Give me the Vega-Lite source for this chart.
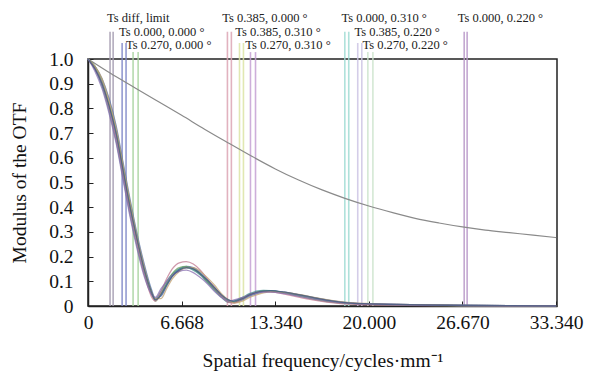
{
  "$schema": "https://vega.github.io/schema/vega-lite/v6.json",
  "width": 469,
  "height": 247,
  "autosize": "none",
  "padding": {"left": 88, "top": 59, "right": 32, "bottom": 68},
  "background": "white",
  "config": {
    "view": {"stroke": "#222", "strokeWidth": 1.5},
    "font": "Liberation Serif"
  },
  "datasets": {
    "curves": [
      {"f": 0, "a": 1, "b": 1, "c": 1, "d": 1, "e": 1, "g": 1, "h": 1, "i": 1},
      {"f": 0.5, "a": 0.96, "b": 0.97, "c": 0.96, "d": 0.97, "e": 0.96, "g": 0.97, "h": 0.95, "i": 0.96},
      {"f": 1, "a": 0.9, "b": 0.92, "c": 0.89, "d": 0.91, "e": 0.9, "g": 0.92, "h": 0.88, "i": 0.9},
      {"f": 1.5, "a": 0.81, "b": 0.84, "c": 0.79, "d": 0.82, "e": 0.8, "g": 0.83, "h": 0.78, "i": 0.81},
      {"f": 2, "a": 0.69, "b": 0.73, "c": 0.67, "d": 0.71, "e": 0.68, "g": 0.72, "h": 0.66, "i": 0.7},
      {"f": 2.5, "a": 0.54, "b": 0.58, "c": 0.52, "d": 0.56, "e": 0.53, "g": 0.57, "h": 0.51, "i": 0.55},
      {"f": 3, "a": 0.39, "b": 0.43, "c": 0.37, "d": 0.41, "e": 0.38, "g": 0.42, "h": 0.36, "i": 0.4},
      {"f": 3.5, "a": 0.26, "b": 0.29, "c": 0.24, "d": 0.27, "e": 0.25, "g": 0.28, "h": 0.23, "i": 0.27},
      {"f": 4, "a": 0.14, "b": 0.17, "c": 0.13, "d": 0.15, "e": 0.13, "g": 0.16, "h": 0.12, "i": 0.15},
      {"f": 4.5, "a": 0.05, "b": 0.07, "c": 0.05, "d": 0.06, "e": 0.04, "g": 0.06, "h": 0.05, "i": 0.06},
      {"f": 4.8, "a": 0.025, "b": 0.03, "c": 0.03, "d": 0.02, "e": 0.02, "g": 0.03, "h": 0.035, "i": 0.025},
      {"f": 5.2, "a": 0.05, "b": 0.04, "c": 0.06, "d": 0.05, "e": 0.06, "g": 0.03, "h": 0.07, "i": 0.045},
      {"f": 5.6, "a": 0.09, "b": 0.08, "c": 0.1, "d": 0.09, "e": 0.11, "g": 0.07, "h": 0.1, "i": 0.085},
      {"f": 6, "a": 0.125, "b": 0.12, "c": 0.13, "d": 0.13, "e": 0.15, "g": 0.11, "h": 0.125, "i": 0.12},
      {"f": 6.5, "a": 0.145, "b": 0.15, "c": 0.15, "d": 0.155, "e": 0.175, "g": 0.14, "h": 0.14, "i": 0.145},
      {"f": 7, "a": 0.155, "b": 0.16, "c": 0.155, "d": 0.16, "e": 0.18, "g": 0.155, "h": 0.145, "i": 0.155},
      {"f": 7.5, "a": 0.15, "b": 0.155, "c": 0.145, "d": 0.15, "e": 0.17, "g": 0.155, "h": 0.135, "i": 0.15},
      {"f": 8, "a": 0.13, "b": 0.135, "c": 0.125, "d": 0.13, "e": 0.145, "g": 0.14, "h": 0.115, "i": 0.13},
      {"f": 8.5, "a": 0.1, "b": 0.105, "c": 0.095, "d": 0.1, "e": 0.11, "g": 0.115, "h": 0.09, "i": 0.105},
      {"f": 9, "a": 0.07, "b": 0.075, "c": 0.065, "d": 0.07, "e": 0.075, "g": 0.085, "h": 0.06, "i": 0.075},
      {"f": 9.5, "a": 0.04, "b": 0.045, "c": 0.035, "d": 0.04, "e": 0.04, "g": 0.05, "h": 0.035, "i": 0.045},
      {"f": 10, "a": 0.02, "b": 0.025, "c": 0.015, "d": 0.02, "e": 0.015, "g": 0.025, "h": 0.02, "i": 0.025},
      {"f": 10.4, "a": 0.015, "b": 0.015, "c": 0.02, "d": 0.015, "e": 0.012, "g": 0.012, "h": 0.025, "i": 0.02},
      {"f": 11, "a": 0.03, "b": 0.025, "c": 0.035, "d": 0.03, "e": 0.03, "g": 0.02, "h": 0.035, "i": 0.03},
      {"f": 11.5, "a": 0.045, "b": 0.04, "c": 0.05, "d": 0.045, "e": 0.045, "g": 0.035, "h": 0.045, "i": 0.045},
      {"f": 12, "a": 0.055, "b": 0.05, "c": 0.06, "d": 0.055, "e": 0.055, "g": 0.045, "h": 0.052, "i": 0.055},
      {"f": 12.5, "a": 0.06, "b": 0.057, "c": 0.063, "d": 0.06, "e": 0.058, "g": 0.053, "h": 0.056, "i": 0.06},
      {"f": 13, "a": 0.061, "b": 0.06, "c": 0.062, "d": 0.06, "e": 0.057, "g": 0.057, "h": 0.056, "i": 0.062},
      {"f": 14, "a": 0.055, "b": 0.056, "c": 0.052, "d": 0.053, "e": 0.048, "g": 0.055, "h": 0.05, "i": 0.056},
      {"f": 15, "a": 0.045, "b": 0.046, "c": 0.04, "d": 0.042, "e": 0.036, "g": 0.047, "h": 0.04, "i": 0.046},
      {"f": 16, "a": 0.033, "b": 0.035, "c": 0.028, "d": 0.03, "e": 0.025, "g": 0.036, "h": 0.03, "i": 0.035},
      {"f": 17, "a": 0.022, "b": 0.025, "c": 0.018, "d": 0.02, "e": 0.016, "g": 0.026, "h": 0.021, "i": 0.024},
      {"f": 18, "a": 0.015, "b": 0.017, "c": 0.012, "d": 0.013, "e": 0.01, "g": 0.018, "h": 0.014, "i": 0.016},
      {"f": 19, "a": 0.011, "b": 0.012, "c": 0.009, "d": 0.009, "e": 0.007, "g": 0.013, "h": 0.01, "i": 0.011},
      {"f": 20, "a": 0.009, "b": 0.009, "c": 0.007, "d": 0.007, "e": 0.005, "g": 0.01, "h": 0.008, "i": 0.009},
      {"f": 22, "a": 0.006, "b": 0.006, "c": 0.005, "d": 0.004, "e": 0.003, "g": 0.006, "h": 0.005, "i": 0.006},
      {"f": 24, "a": 0.004, "b": 0.004, "c": 0.003, "d": 0.003, "e": 0.002, "g": 0.004, "h": 0.003, "i": 0.004},
      {"f": 27, "a": 0.002, "b": 0.002, "c": 0.002, "d": 0.001, "e": 0.001, "g": 0.002, "h": 0.002, "i": 0.002},
      {"f": 30, "a": 0.001, "b": 0.001, "c": 0.001, "d": 0.001, "e": 0, "g": 0.001, "h": 0.001, "i": 0.001},
      {"f": 33.34, "a": 0, "b": 0, "c": 0, "d": 0, "e": 0, "g": 0, "h": 0, "i": 0}
    ],
    "diff": [
      {"f": 0, "m": 1},
      {"f": 1.57, "m": 0.943},
      {"f": 3.36, "m": 0.883},
      {"f": 5, "m": 0.828},
      {"f": 6.67, "m": 0.772},
      {"f": 8.3, "m": 0.716},
      {"f": 10, "m": 0.66},
      {"f": 11.7, "m": 0.605},
      {"f": 13.34, "m": 0.555},
      {"f": 15, "m": 0.51},
      {"f": 16.67, "m": 0.47},
      {"f": 18.3, "m": 0.436},
      {"f": 20, "m": 0.405},
      {"f": 21.7, "m": 0.378},
      {"f": 23.3, "m": 0.355},
      {"f": 25, "m": 0.336},
      {"f": 26.67, "m": 0.32},
      {"f": 28.3, "m": 0.307},
      {"f": 30, "m": 0.297},
      {"f": 31.7, "m": 0.287},
      {"f": 33.34, "m": 0.277}
    ],
    "markers": [
      {"field": "diff", "f": 1.57, "top": 1.11},
      {"field": "diff", "f": 1.79, "top": 1.11},
      {"field": "00", "f": 2.43, "top": 1.065},
      {"field": "00", "f": 2.71, "top": 1.065},
      {"field": "270_0", "f": 3.21, "top": 1.028},
      {"field": "270_0", "f": 3.57, "top": 1.028},
      {"field": "385_0", "f": 9.93, "top": 1.11},
      {"field": "385_0", "f": 10.21, "top": 1.11},
      {"field": "385_310", "f": 10.79, "top": 1.065},
      {"field": "385_310", "f": 11.07, "top": 1.065},
      {"field": "270_310", "f": 11.57, "top": 1.028},
      {"field": "270_310", "f": 11.93, "top": 1.028},
      {"field": "0_310", "f": 18.29, "top": 1.11},
      {"field": "0_310", "f": 18.57, "top": 1.11},
      {"field": "385_220", "f": 19.21, "top": 1.065},
      {"field": "385_220", "f": 19.5, "top": 1.065},
      {"field": "270_220", "f": 19.93, "top": 1.028},
      {"field": "270_220", "f": 20.29, "top": 1.028},
      {"field": "0_220", "f": 26.79, "top": 1.11},
      {"field": "0_220", "f": 27.0, "top": 1.11}
    ],
    "labels": [
      {"label": "Ts diff, limit", "f": 1.36, "m": 1.164},
      {"label": "Ts 0.385, 0.000 °", "f": 9.56, "m": 1.164},
      {"label": "Ts 0.000, 0.310 °", "f": 18.05, "m": 1.164},
      {"label": "Ts 0.000, 0.220 °", "f": 26.33, "m": 1.164},
      {"label": "Ts 0.000, 0.000 °", "f": 2.21, "m": 1.11},
      {"label": "Ts 0.385, 0.310 °", "f": 10.49, "m": 1.11},
      {"label": "Ts 0.385, 0.220 °", "f": 18.97, "m": 1.11},
      {"label": "Ts 0.270, 0.000 °", "f": 2.71, "m": 1.056},
      {"label": "Ts 0.270, 0.310 °", "f": 11.2, "m": 1.056},
      {"label": "Ts 0.270, 0.220 °", "f": 19.54, "m": 1.056}
    ]
  },
  "layer": [
    {
      "data": {"name": "markers"},
      "mark": {"type": "rule", "strokeWidth": 1.6, "opacity": 0.85, "clip": false},
      "encoding": {
        "x": {"field": "f", "type": "quantitative"},
        "y": {"field": "top", "type": "quantitative"},
        "y2": {"datum": 0},
        "stroke": {
          "field": "field", "type": "nominal", "legend": null,
          "scale": {
            "domain": ["diff", "00", "270_0", "385_0", "385_310", "270_310", "0_310", "385_220", "270_220", "0_220"],
            "range": ["#a49cb0", "#8088c8", "#a8d4a0", "#dca4b4", "#dce4a4", "#c4a0d4", "#a0dcd4", "#ccc4e4", "#cce4cc", "#b898c8"]
          }
        }
      }
    },
    {
      "data": {"name": "diff"},
      "mark": {"type": "line", "color": "#8a8a8a", "strokeWidth": 1.2, "interpolate": "monotone"},
      "encoding": {
        "x": {"field": "f", "type": "quantitative"},
        "y": {"field": "m", "type": "quantitative"}
      }
    },
    {
      "data": {"name": "curves"},
      "transform": [{"fold": ["a", "b", "c", "d", "e", "g", "h", "i"], "as": ["c", "m"]}],
      "mark": {"type": "line", "interpolate": "monotone", "strokeWidth": 1.3, "opacity": 0.75},
      "encoding": {
        "x": {"field": "f", "type": "quantitative"},
        "y": {"field": "m", "type": "quantitative"},
        "detail": {"field": "c"},
        "color": {
          "field": "c", "type": "nominal", "legend": null,
          "scale": {"range": ["#6a5a9a", "#4a6aa8", "#3a8a8a", "#6aa060", "#c07890", "#c0a070", "#8a70b0", "#405a80"]}
        }
      }
    },
    {
      "data": {"name": "labels"},
      "mark": {"type": "text", "align": "left", "baseline": "middle", "font": "Liberation Serif", "fontSize": 12.5, "color": "#222"},
      "encoding": {
        "x": {"field": "f", "type": "quantitative"},
        "y": {"field": "m", "type": "quantitative"},
        "text": {"field": "label"}
      }
    }
  ],
  "encoding": {
    "x": {
      "field": "f", "type": "quantitative",
      "scale": {"domain": [0, 33.4], "nice": false},
      "axis": {
        "title": "Spatial frequency/cycles·mm⁻¹",
        "values": [0, 6.668, 13.34, 20, 26.67, 33.34],
        "labelExpr": "datum.value == 0 ? '0' : format(datum.value, '.3f')",
        "labelFlush": false,
        "grid": false, "tickSize": -5, "tickColor": "#222", "domainColor": "#222", "domainWidth": 1.5,
        "labelFont": "Liberation Serif", "labelFontSize": 19.5, "labelColor": "#111", "labelPadding": 12,
        "titleFont": "Liberation Serif", "titleFontSize": 19.5, "titleFontWeight": "normal", "titleColor": "#111", "titlePadding": 20
      }
    },
    "y": {
      "field": "m", "type": "quantitative",
      "scale": {"domain": [0, 1], "nice": false},
      "axis": {
        "title": "Modulus of the OTF",
        "values": [0, 0.1, 0.2, 0.3, 0.4, 0.5, 0.6, 0.7, 0.8, 0.9, 1.0],
        "labelExpr": "datum.value == 0 ? '0' : format(datum.value, '.1f')",
        "labelFlush": false,
        "grid": false, "tickSize": -5, "tickColor": "#222", "domainColor": "#222", "domainWidth": 1.5,
        "labelFont": "Liberation Serif", "labelFontSize": 19.5, "labelColor": "#111", "labelPadding": 20,
        "titleFont": "Liberation Serif", "titleFontSize": 19.5, "titleFontWeight": "normal", "titleColor": "#111", "titlePadding": 19
      }
    }
  }
}
